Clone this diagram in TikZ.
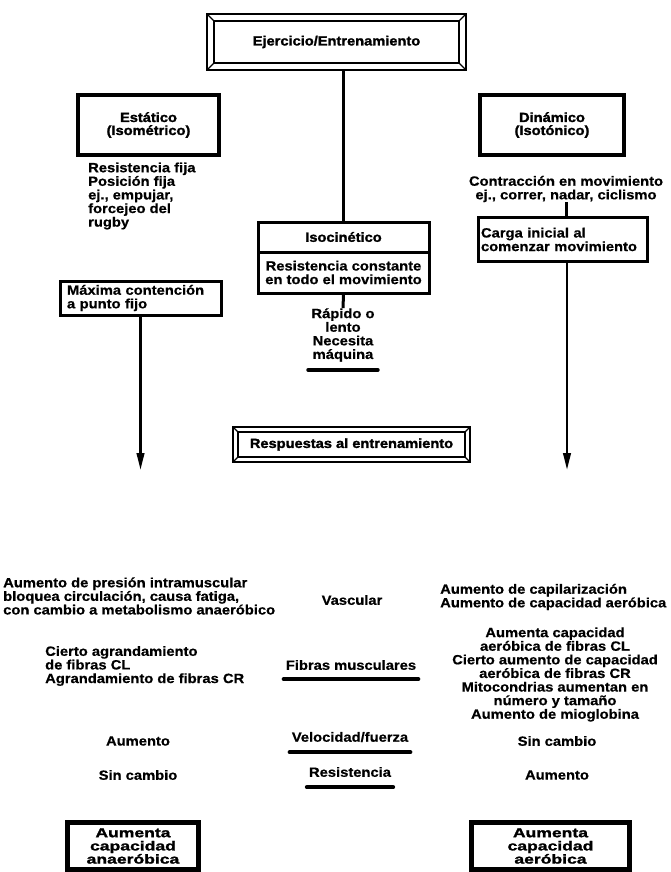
\documentclass[tikz,border=0pt]{standalone}
\usepackage{fontspec}
\setmainfont{Liberation Sans}[FakeStretch=1.1,BoldFeatures={FakeBold=0.6}]
\newfontfamily\boxfont{Liberation Sans}[FakeStretch=1.1,BoldFeatures={FakeBold=1.6}]
\newfontfamily\boxwide{Liberation Sans}[FakeStretch=1.35,BoldFeatures={FakeBold=1.6}]
\usetikzlibrary{arrows.meta}
\tikzset{
  ftxt/.style={font=\bfseries\fontsize{13.4}{13.6}\selectfont, inner sep=0pt},
  btxt/.style={font=\boxfont\bfseries\fontsize{13.3}{13}\selectfont},
  wtxt/.style={font=\boxwide\bfseries\fontsize{13}{13.2}\selectfont},
  heavybox/.style={draw, line width=4.5pt, btxt, align=center, inner sep=0pt},
  midbox/.style={draw, line width=3pt, align=center, inner sep=0pt},
  bevel/.style={draw, line width=2pt, btxt, inner sep=0pt,
    path picture={
      \draw[line width=2pt] ([shift={(#1,#1)}]path picture bounding box.south west) rectangle ([shift={(-#1,-#1)}]path picture bounding box.north east);
      \draw[line width=1.2pt] (path picture bounding box.south west) -- ++(#1,#1);
      \draw[line width=1.2pt] (path picture bounding box.south east) -- ++(-#1,#1);
      \draw[line width=1.2pt] (path picture bounding box.north west) -- ++(#1,-#1);
      \draw[line width=1.2pt] (path picture bounding box.north east) -- ++(-#1,-#1);
    }},
  conn/.style={line width=3pt},
  arr/.style={line width=2.5pt, -{Triangle[length=17pt,width=7.5pt]}},
  bar/.style={line width=4pt, line cap=round},
}
\begin{document}
\begin{tikzpicture}[x=1pt,y=-1pt]
\useasboundingbox[fill=white] (0,0) rectangle (671,872);

\node[bevel=7pt, minimum width=259pt, minimum height=56pt] (top) at (336.5,42) {Ejercicio/Entrenamiento};
\node[heavybox, minimum width=141pt, minimum height=60pt] (est) at (148.5,125) {Estático\\(Isométrico)};
\node[heavybox, minimum width=144pt, minimum height=60pt] (din) at (552,125) {Dinámico\\(Isotónico)};
\node[ftxt, align=left, anchor=west] (esttxt) at (88,196) {Resistencia fija\\Posición fija\\ej., empujar,\\forcejeo del\\rugby};

\node[midbox, btxt, minimum width=171pt, minimum height=30pt] (iso) at (343.5,237) {Isocinético};
\node[midbox, ftxt, minimum width=171pt, minimum height=41pt] (isodesc) at (343.5,272.5) {Resistencia constante\\en todo el movimiento};
\node[ftxt, align=center] (rapido) at (343,335) {Rápido o\\lento\\Necesita\\máquina};

\node[ftxt, align=center] (contr) at (566,189) {Contracción en movimiento\\ej., correr, nadar, ciclismo};
\node[midbox, ftxt, align=left, minimum width=169pt, minimum height=44pt, text width=163pt] (carga) at (562.5,239.5) {Carga inicial al\\comenzar movimiento};
\node[midbox, ftxt, align=left, minimum width=161pt, minimum height=34pt, text width=147pt] (max) at (140.5,298) {Máxima contención\\a punto fijo};

\coordinate (la) at (139,470);
\coordinate (ra) at (567,470);

\node[bevel=5pt, minimum width=237pt, minimum height=35pt] (resp) at (351.5,444.5) {Respuestas al entrenamiento};

\node[ftxt, align=left, anchor=west] (vascL) at (3,596) {Aumento de presión intramuscular\\bloquea circulación, causa fatiga,\\con cambio a metabolismo anaeróbico};
\node[ftxt] (vasc) at (352,600) {Vascular};
\node[ftxt, align=left, anchor=west] (vascR) at (440,597) {Aumento de capilarización\\Aumento de capacidad aeróbica};

\node[ftxt, align=left, anchor=west] (fibL) at (45,666) {Cierto agrandamiento\\de fibras CL\\Agrandamiento de fibras CR};
\node[ftxt] (fib) at (351,665) {Fibras musculares};
\node[ftxt, align=center] (fibR) at (555,674.5) {Aumenta capacidad\\aeróbica de fibras CL\\Cierto aumento de capacidad\\aeróbica de fibras CR\\Mitocondrias aumentan en\\número y tamaño\\Aumento de mioglobina};

\node[ftxt] (velL) at (138,741) {Aumento};
\node[ftxt] (vel) at (350,737) {Velocidad/fuerza};
\node[ftxt] (velR) at (557,741) {Sin cambio};
\node[ftxt] (resL) at (138,775) {Sin cambio};
\node[ftxt] (res) at (350,772) {Resistencia};
\node[ftxt] (resR) at (557,775) {Aumento};

\node[heavybox, wtxt, minimum width=131pt, minimum height=47pt] (anae) at (133,846) {Aumenta\\capacidad\\anaeróbica};
\node[heavybox, wtxt, minimum width=158pt, minimum height=47pt] (aer) at (550.5,846) {Aumenta\\capacidad\\aeróbica};

% connectors
\draw[conn] (top.south -| iso.north) -- (iso.north);
\draw[conn] (isodesc.south) -- (rapido.north);
\draw[conn] (contr.south) -- (contr.south |- carga.north);
\draw[arr] (max.south) -- (max.south |- la);
\draw[arr] (carga.south -| ra) -- (ra);

% underline bars
\draw[bar] ([xshift=-3pt,yshift=-8pt]rapido.south west) -- ([xshift=3pt,yshift=-8pt]rapido.south east);
\draw[bar] ([xshift=-2pt,yshift=-9pt]fib.south west) -- ([xshift=2pt,yshift=-9pt]fib.south east);
\draw[bar] ([xshift=-2pt,yshift=-10pt]vel.south west) -- ([xshift=2pt,yshift=-10pt]vel.south east);
\draw[bar] ([xshift=-2pt,yshift=-10pt]res.south west) -- ([xshift=2pt,yshift=-10pt]res.south east);
\end{tikzpicture}
\end{document}
